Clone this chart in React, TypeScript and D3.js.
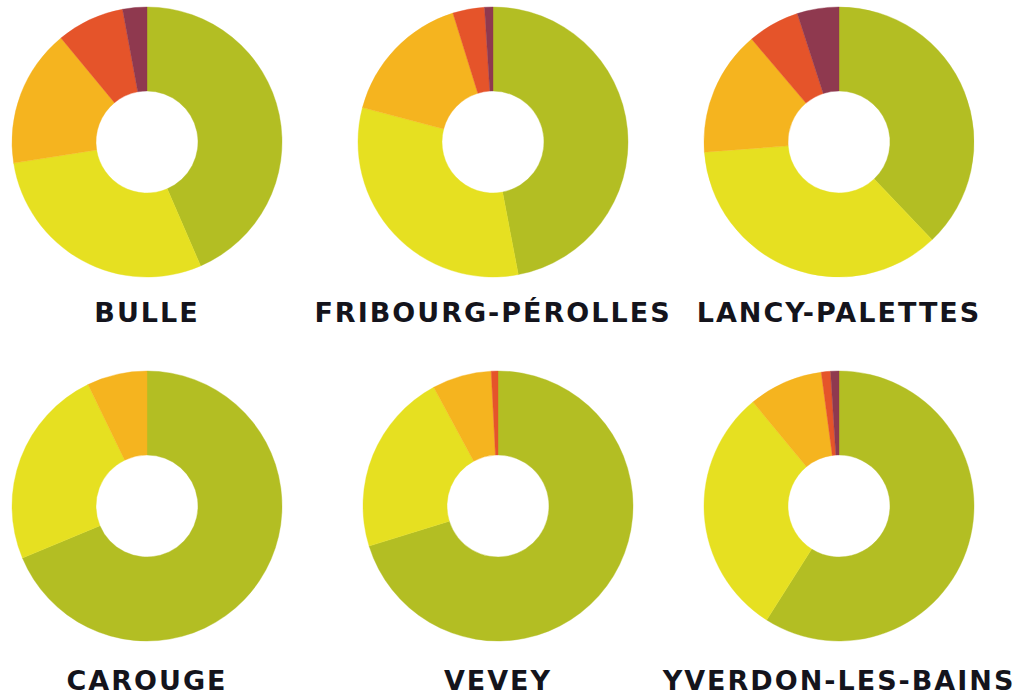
import React from 'react';
import * as d3 from 'd3';

// Sites, in reading order (row by row)
const sites = ['BULLE', 'FRIBOURG-PÉROLLES', 'LANCY-PALETTES', 'CAROUGE', 'VEVEY', 'YVERDON-LES-BAINS'];

// Shares per site (percent), clockwise from 12 o'clock
const share_green = [43.5, 47.0, 37.9, 68.7, 70.2, 59.0];
const share_yellow = [29.0, 32.1, 35.9, 24.1, 21.9, 30.0];
const share_orange = [16.5, 16.1, 15.0, 7.2, 7.1, 8.9];
const share_red = [8.1, 3.8, 6.2, 0, 0.8, 1.1];
const share_maroon = [2.9, 1.0, 5.0, 0, 0, 1.0];

const colors = ['#b3be23', '#e6e021', '#f5b41f', '#e5542a', '#8f394f'];

const W = 1021;
const H = 698;

export default function App() {
  const col_x = d3.scalePoint<number>().domain([0, 1, 2]).range([147, 839]);
  const row_y = d3.scalePoint<number>().domain([0, 1]).range([142, 506]);
  const label_y = d3.scalePoint<number>().domain([0, 1]).range([322, 690]);

  const pie = d3.pie<number>().sort(null).value((d) => d);
  const arc = d3.arc<d3.PieArcDatum<number>>().innerRadius(51).outerRadius(135);

  return (
    <>
      <style>{`body{margin:0}`}</style>
      <svg width={W} height={H} style={{display: 'block'}}>
        <rect width={W} height={H} fill='#fff' />
        {sites.map((name, i) => {
          const values = [share_green[i], share_yellow[i], share_orange[i], share_red[i], share_maroon[i]];
          const col = i % 3;
          const row = Math.floor(i / 3);
          // the middle chart of the lower row sits a little to the right
          const cx = col_x(col)! + (row === 1 && col === 1 ? 5 : 0);
          const cy = row_y(row)!;
          return (
            <g key={name}>
              <g transform={`translate(${cx},${cy})`}>
                {pie(values).map((s, j) =>
                  s.value > 0 ? (
                    <path key={j} d={arc(s) || ''} fill={colors[j]} stroke={colors[j]} strokeWidth={0.4} />
                  ) : null
                )}
              </g>
              <text
                x={cx}
                y={label_y(row)}
                textAnchor='middle'
                fontFamily='"DejaVu Sans", sans-serif'
                fontWeight='bold'
                fontSize={27}
                letterSpacing={2}
                fill='#14141c'
              >
                {name}
              </text>
            </g>
          );
        })}
      </svg>
    </>
  );
}
